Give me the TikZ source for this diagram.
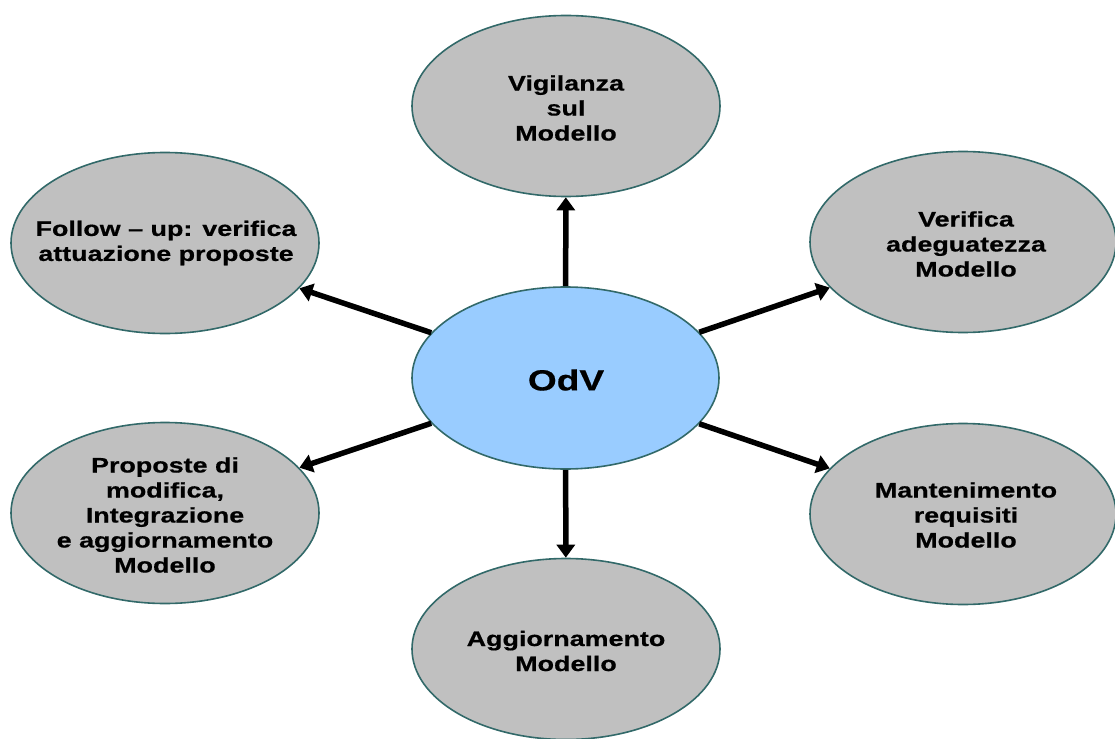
\documentclass[tikz,border=0pt]{standalone}
\usepackage{fontspec}
\setmainfont[FakeStretch=1.28, BoldFeatures={FakeBold=0.6}]{Liberation Sans}
\usetikzlibrary{shapes.geometric,arrows.meta}
\definecolor{edge}{RGB}{50,105,105}
\definecolor{grayfill}{RGB}{192,192,192}
\definecolor{bluefill}{RGB}{153,204,255}
\tikzset{
  oval/.style={ellipse, draw=edge, line width=1.6pt, fill=grayfill, inner sep=0pt,
    minimum width=308pt, minimum height=181pt},
  centeroval/.style={oval, fill=bluefill, minimum width=307pt, minimum height=182pt},
  lbl/.style={align=center, font=\fontsize{21}{25}\selectfont\bfseries, inner sep=0pt},
  arr/.style={-{Triangle[width=18pt,length=13pt]}, line width=5.5pt, black}
}
\begin{document}
\begin{tikzpicture}[x=1pt,y=-1pt]
\useasboundingbox (0,0) rectangle (1115,738);
\node[centeroval] (c) at (565.5,378) {};
\node[font=\fontsize{29}{33}\selectfont\bfseries, inner sep=0pt] (ct) at (566,380) {OdV};
\node[oval] (t) at (566,106) {};
\node[lbl] (tt) at (566,108) {Vigilanza\\sul\\Modello};
\node[oval] (tl) at (165,243) {};
\node[lbl] (tlt) at (166,243) {Follow -- up: verifica\\attuazione proposte};
\node[oval, minimum width=306pt] (tr) at (963,242) {};
\node[lbl] (trt) at (966,244) {Verifica\\adeguatezza\\Modello};
\node[oval] (bl) at (165,513) {};
\node[lbl] (blt) at (165,515) {Proposte di\\modifica,\\Integrazione\\e aggiornamento\\Modello};
\node[oval, minimum width=306pt] (br) at (963,514) {};
\node[lbl] (brt) at (966,515) {Mantenimento\\requisiti\\Modello};
\node[oval] (b) at (566,649) {};
\node[lbl] (bt) at (566,651) {Aggiornamento\\Modello};
\draw[arr] (c) -- (t);
\draw[arr] (c) -- (b);
\draw[arr] (c) -- (tl);
\draw[arr] (c) -- (bl);
\draw[arr] (c) -- (tr);
\draw[arr] (c) -- (br);
\end{tikzpicture}
\end{document}
